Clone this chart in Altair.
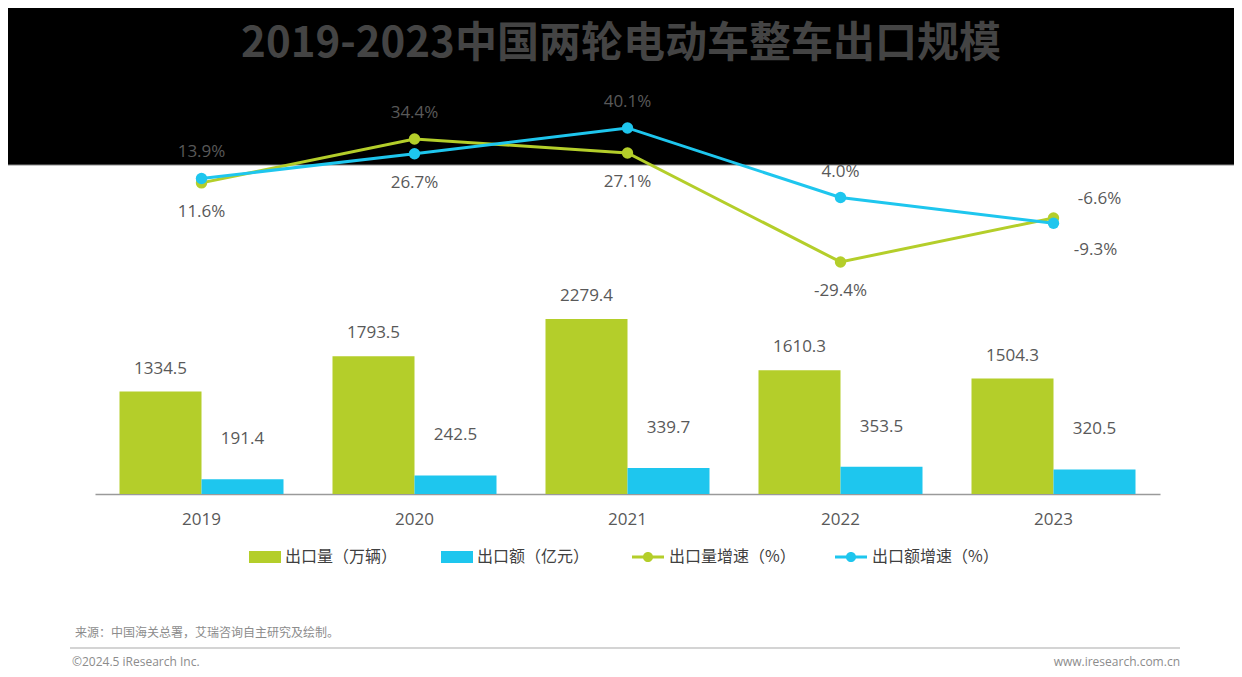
import altair as alt
import pandas as pd

# ---------------- data ----------------
years = ["2019", "2020", "2021", "2022", "2023"]
export_volume = [1334.5, 1793.5, 2279.4, 1610.3, 1504.3]      # 出口量（万辆）
export_value = [191.4, 242.5, 339.7, 353.5, 320.5]            # 出口额（亿元）
volume_growth = [11.6, 34.4, 27.1, -29.4, -6.6]                # 出口量增速（%）
value_growth = [13.9, 26.7, 40.1, 4.0, -9.3]                   # 出口额增速（%）
bar_names = ["出口量（万辆）", "出口额（亿元）"]
line_names = ["出口量增速（%）", "出口额增速（%）"]
title_text = "2019-2023中国两轮电动车整车出口规模"
source_text = "来源：中国海关总署，艾瑞咨询自主研究及绘制。"
copyright_text = "©2024.5 iResearch Inc."
site_text = "www.iresearch.com.cn"

GREEN = "#B4CE2A"
BLUE = "#1EC6EE"
TXT = "#595959"
FONT = "Open Sans, Noto Sans CJK SC"
CJK = "Noto Sans CJK SC"

bars = pd.DataFrame(
    [{"year": y, "series": bar_names[0], "value": v} for y, v in zip(years, export_volume)]
    + [{"year": y, "series": bar_names[1], "value": v} for y, v in zip(years, export_value)]
)
rows = []
for y, a, b in zip(years, volume_growth, value_growth):
    rows.append({"year": y, "series": line_names[0], "value": a, "pos": "above" if a >= b else "below"})
for y, a, b in zip(years, volume_growth, value_growth):
    rows.append({"year": y, "series": line_names[1], "value": b, "pos": "above" if b > a else "below"})
lines = pd.DataFrame(rows)
one = pd.DataFrame({"k": [0]})

x_enc = alt.X(
    "year:N",
    sort=years,
    scale=alt.Scale(paddingInner=0.23, paddingOuter=0.115),
    axis=alt.Axis(
        title=None, ticks=False, grid=False, domainColor="#9a9a9a", domainWidth=1.5,
        labelFontSize=17, labelColor=TXT, labelFont=FONT, labelPadding=17,
        labelAngle=0, offset=-175,
    ),
)
xoff = alt.XOffset("series:N", sort=bar_names, scale=alt.Scale(paddingInner=0, paddingOuter=0))
y_bar = alt.Y("value:Q", axis=None, scale=alt.Scale(domain=[-2279.4, 6330.2], zero=False, nice=False))
y_line = alt.Y("value:Q", axis=None, scale=alt.Scale(domain=[-240.5, 102.3], zero=False, nice=False))

# ---------------- decoration ----------------
band = alt.Chart(one).mark_rect(color="#000000").encode(
    x=alt.value(-87), x2=alt.value(1139), y=alt.value(0), y2=alt.value(157)
)
band_edge = alt.Chart(one).mark_rule(color="#8a8a8a", strokeWidth=1).encode(
    x=alt.value(-87), x2=alt.value(1139), y=alt.value(157)
)
title = alt.Chart(one).mark_text(
    text=title_text, font=CJK, fontSize=42, fontWeight="bold", color="#444444",
    align="center", baseline="middle",
).encode(x=alt.value(526), y=alt.value(36))
source = alt.Chart(one).mark_text(
    text=source_text, font=CJK, fontSize=12, color="#8c8c8c", align="left", baseline="middle"
).encode(x=alt.value(-20), y=alt.value(625))
footer_rule = alt.Chart(one).mark_rule(color="#d4d4d4", strokeWidth=2).encode(
    x=alt.value(-25), x2=alt.value(1085), y=alt.value(640)
)
copyright = alt.Chart(one).mark_text(
    text=copyright_text, font=FONT, fontSize=12, color="#8c8c8c", align="left", baseline="middle"
).encode(x=alt.value(-23), y=alt.value(654))
site = alt.Chart(one).mark_text(
    text=site_text, font=FONT, fontSize=12, color="#8c8c8c", align="right", baseline="middle"
).encode(x=alt.value(1085), y=alt.value(654))

# ---------------- bars ----------------
bar_color = alt.Color(
    "series:N",
    scale=alt.Scale(domain=bar_names, range=[GREEN, BLUE]),
    legend=alt.Legend(
        title=None, orient="none", legendX=154, legendY=533, direction="horizontal",
        symbolType="M-1,-0.375H1V0.375H-1Z", symbolSize=1024, symbolStrokeWidth=0,
        labelFontSize=16, labelColor="#404040", labelFont=CJK, labelOffset=4,
        columnPadding=43, padding=0,
    ),
)
bar_base = alt.Chart(bars)
bar_marks = bar_base.mark_bar().encode(x=x_enc, xOffset=xoff, y=y_bar, color=bar_color)
bar_text_vol = bar_base.transform_filter(alt.datum.series == bar_names[0]).mark_text(
    dy=-23, fontSize=17, color=TXT, font=FONT, baseline="middle"
).encode(x=x_enc, xOffset=xoff, y=y_bar, text=alt.Text("value:Q", format=".1f"))
bar_text_val = bar_base.transform_filter(alt.datum.series == bar_names[1]).mark_text(
    dy=-40, fontSize=17, color=TXT, font=FONT, baseline="middle"
).encode(x=x_enc, xOffset=xoff, y=y_bar, text=alt.Text("value:Q", format=".1f"))
bar_layer = alt.layer(bar_marks, bar_text_vol, bar_text_val)

# ---------------- lines ----------------
line_legend = alt.Legend(
    title=None, orient="none", legendX=537, legendY=533, direction="horizontal",
    symbolType="M-1,-0.09H1V0.09H-1Z M-0.32,0 A0.32,0.32 0 1,1 0.32,0 A0.32,0.32 0 1,1 -0.32,0 Z",
    symbolSize=1024, symbolStrokeWidth=0,
    labelFontSize=16, labelColor="#404040", labelFont=CJK, labelOffset=5,
    columnPadding=39, padding=0,
)
line_base = alt.Chart(lines)
line_marks = line_base.mark_line(strokeWidth=3).encode(
    x=x_enc, y=y_line,
    stroke=alt.Stroke("series:N", scale=alt.Scale(domain=line_names, range=[GREEN, BLUE]), legend=None),
)
point_marks = line_base.mark_point(filled=True, size=130, opacity=1).encode(
    x=x_enc, y=y_line,
    color=alt.Color("series:N", scale=alt.Scale(domain=line_names, range=[GREEN, BLUE]), legend=line_legend),
)
txt = dict(fontSize=17, color=TXT, font=FONT, baseline="middle")
label_expr = "(datum.value < 0 ? '-' : '') + format(abs(datum.value), '.1f') + '%'"
fmt = lambda c: c.transform_calculate(lab=label_expr).encode(x=x_enc, y=y_line, text="lab:N")
above = fmt(line_base.transform_filter((alt.datum.pos == "above") & (alt.datum.year != "2023")).mark_text(dy=-26, **txt))
below = fmt(line_base.transform_filter((alt.datum.pos == "below") & (alt.datum.year != "2023")).mark_text(dy=29, **txt))
above_last = fmt(line_base.transform_filter((alt.datum.pos == "above") & (alt.datum.year == "2023")).mark_text(dx=46, dy=-19, **txt))
below_last = fmt(line_base.transform_filter((alt.datum.pos == "below") & (alt.datum.year == "2023")).mark_text(dx=42, dy=27, **txt))
line_layer = alt.layer(line_marks, point_marks, above, below, above_last, below_last)

chart = (
    alt.layer(band, band_edge, title, bar_layer, line_layer, source, footer_rule, copyright, site)
    .resolve_scale(y="independent", color="independent")
    .properties(
        width=1065, height=661,
        padding={"left": 87, "right": 74, "top": 0, "bottom": 0},
        autosize=alt.AutoSizeParams(type="none"),
        background="#ffffff",
    )
    .configure_view(stroke=None)
)

chart.save("out.html", embed_options={"renderer": "svg", "actions": False})
